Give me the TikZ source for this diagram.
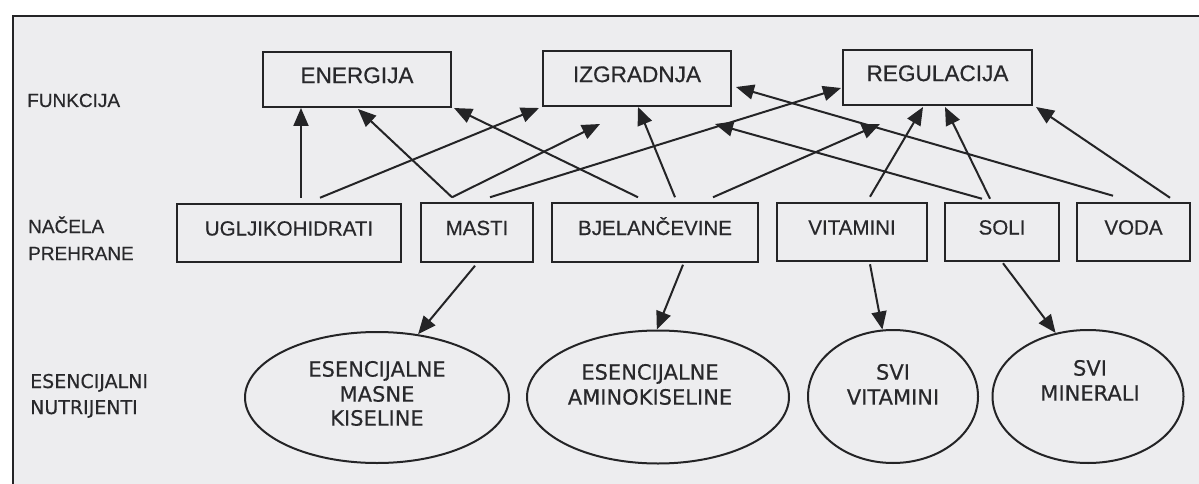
\documentclass[tikz,border=0pt]{standalone}
\usepackage{fontspec}
\setmainfont{Liberation Sans}[FakeBold=0.5]
\newfontfamily\dvs{DejaVu Sans}[FakeBold=0.4]
\usetikzlibrary{arrows.meta,shapes.geometric}
\definecolor{bg}{RGB}{237,237,239}
\definecolor{ink}{RGB}{36,36,38}
\definecolor{txt}{RGB}{40,40,43}
\begin{document}
\begin{tikzpicture}[x=1pt,y=-1pt,
  topbox/.style={draw=ink,line width=2pt,rectangle,inner sep=0pt,minimum width=188pt,minimum height=55pt,
    font=\fontsize{22.6}{26}\selectfont,text=txt,text height=16.2pt,text depth=9pt},
  midbox/.style={draw=ink,line width=2pt,rectangle,inner sep=0pt,minimum height=58.5pt,
    font=\fontsize{20.5}{24}\selectfont,text=txt,text height=14.7pt,text depth=9.7pt},
  ell/.style={draw=ink,line width=2pt,ellipse,inner sep=0pt},
  etext/.style={anchor=base,font=\dvs\fontsize{21}{24.5}\selectfont,text=txt,inner sep=0pt},
  rowlab/.style={anchor=base west,font=\fontsize{19}{22}\selectfont,text=txt,inner sep=0pt},
  rowlabd/.style={anchor=base west,font=\dvs\fontsize{19}{22}\selectfont,text=txt,inner sep=0pt},
  arr/.style={draw=ink,line width=2pt,-{Triangle[length=18pt,width=15pt]}},
  frameline/.style={draw=ink,line width=2.4pt}
]
\useasboundingbox (0,0) rectangle (1199,484);
\fill[white] (0,0) rectangle (1199,484);
\fill[bg] (13,16) rectangle (1199,484);
\draw[frameline] (13,484) -- (13,16) -- (1199,16);

% row labels
\node[rowlab] (funkcija) at (27,107) {FUNKCIJA};
\node[rowlab] (nacela) at (28,233) {NAČELA};
\node[rowlab] (prehrane) at (28,260) {PREHRANE};
\node[rowlabd] (esencijalni) at (30,388) {ESENCIJALNI};
\node[rowlabd] (nutrijenti) at (30,414) {NUTRIJENTI};

% top row
\node[topbox] (energija) at (357,79.5) {ENERGIJA};
\node[topbox] (izgradnja) at (637,78.5) {IZGRADNJA};
\node[topbox,minimum width=189pt] (regulacija) at (937.5,77.5) {REGULACIJA};

% middle row
\node[midbox,minimum width=224pt] (ugl) at (289,233) {UGLJIKOHIDRATI};
\node[midbox,minimum width=112pt] (masti) at (477,232.5) {MASTI};
\node[midbox,minimum width=206pt] (bjel) at (655,232.5) {BJELANČEVINE};
\node[midbox,minimum width=150pt] (vit) at (852,232) {VITAMINI};
\node[midbox,minimum width=114pt] (soli) at (1002,232) {SOLI};
\node[midbox,minimum width=113pt] (voda) at (1133.5,232) {VODA};

% ellipses
\node[ell,minimum width=264pt,minimum height=131pt] (e1) at (377,397.5) {};
\node[ell,minimum width=262pt,minimum height=133pt] (e2) at (658,397) {};
\node[ell,minimum width=170pt,minimum height=133pt] (e3) at (893,396.5) {};
\node[ell,minimum width=191pt,minimum height=133pt] (e4) at (1088,396.5) {};

\node[etext] (e1a) at (377,376.6) {ESENCIJALNE};
\node[etext] (e1b) at (377,401.6) {MASNE};
\node[etext] (e1c) at (377,425.6) {KISELINE};
\node[etext] (e2a) at (650,379.6) {ESENCIJALNE};
\node[etext] (e2b) at (650,404.6) {AMINOKISELINE};
\node[etext] (e3a) at (893,379.6) {SVI};
\node[etext] (e3b) at (893,404.6) {VITAMINI};
\node[etext] (e4a) at (1090,375.6) {SVI};
\node[etext] (e4b) at (1090,400.6) {MINERALI};

% free arrow ends
\coordinate (f1) at (600,124);
\coordinate (f2) at (880,124);
\coordinate (f3) at (715,124);

% arrows up
\draw[arr] ([xshift=12pt,yshift=5pt]ugl.north) -- ([xshift=-56pt]energija.south);
\draw[arr] ([xshift=31pt,yshift=5pt]ugl.north) -- ([xshift=-3pt,yshift=-1pt]izgradnja.south west);
\draw[arr] ([xshift=-25pt,yshift=5pt]masti.north) -- ([xshift=1pt,yshift=-1pt]energija.south);
\draw[arr] ([xshift=-25pt,yshift=5pt]masti.north) -- (f1);
\draw[arr] ([xshift=13pt,yshift=5pt]masti.north) -- ([xshift=-1pt,yshift=-10.5pt]regulacija.west);
\draw[arr] ([xshift=-17pt,yshift=5pt]bjel.north) -- ([xshift=2pt]energija.south east);
\draw[arr] ([xshift=20pt,yshift=5pt]bjel.north) -- ([xshift=1pt]izgradnja.south);
\draw[arr] ([xshift=58pt,yshift=5pt]bjel.north) -- (f2);
\draw[arr] ([xshift=18pt,yshift=5pt]vit.north) -- ([xshift=-14.5pt,yshift=-1pt]regulacija.south);
\draw[arr] ([xshift=-20pt,yshift=3pt]soli.north) -- (f3);
\draw[arr] ([xshift=-12pt,yshift=3pt]soli.north) -- ([xshift=7.5pt,yshift=-1pt]regulacija.south);
\draw[arr] ([xshift=-20.5pt,yshift=6pt]voda.north) -- ([xshift=4pt,yshift=-8.5pt]izgradnja.east);
\draw[arr] ([xshift=36.5pt,yshift=4pt]voda.north) -- ([xshift=3pt,yshift=-1pt]regulacija.south east);

% arrows down
\draw[arr] ([xshift=-2pt,yshift=-3pt]masti.south) -- (e1.57);
\draw[arr] ([xshift=28pt,yshift=-2pt]bjel.south) -- (e2.91);
\draw[arr] ([xshift=18pt,yshift=-2pt]vit.south) -- (e3.99);
\draw[arr] ([xshift=1pt,yshift=-1pt]soli.south) -- (e4.117);
\end{tikzpicture}
\end{document}
